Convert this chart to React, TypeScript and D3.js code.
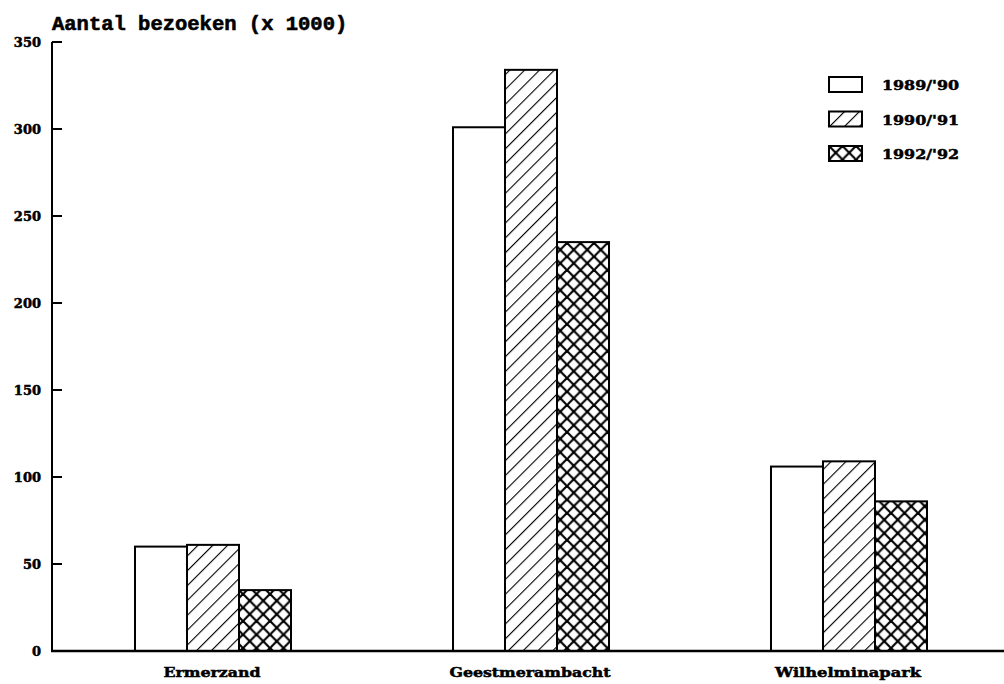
import React from 'react'
import * as d3 from 'd3'

const categories = ['Ermerzand', 'Geestmerambacht', 'Wilhelminapark']
const seasons = ["1989/'90", "1990/'91", "1992/'92"]
const values1989 = [60, 301, 106]
const values1990 = [61, 334, 109]
const values1992 = [35, 235, 86]
const yTicks = [0, 50, 100, 150, 200, 250, 300, 350]

const seriesValues = [values1989, values1990, values1992]
const fills = ['#fff', 'url(#hatch)', 'url(#cross)']

export default function App() {
  const width = 1004
  const height = 684
  const axisX = 52

  const y = d3.scaleLinear().domain([0, 350]).range([651, 42])
  const x = d3.scalePoint<string>().domain(categories).range([213, 849])
  const inner = d3.scaleBand<string>().domain(seasons).range([-78, 78])

  // old printed font: heavy, wide serif
  const heavy = {
    fontFamily: '"DejaVu Serif", "Liberation Serif", serif',
    fontWeight: 700,
    stroke: '#000',
    strokeWidth: 0.5,
    fill: '#000',
  }
  // label widths as printed, so they stretch like the original
  const labelWidth: Record<string, number> = { Ermerzand: 97, Geestmerambacht: 161, Wilhelminapark: 146 }

  return (
    <svg width={width} height={height} style={{ position: 'absolute', left: 0, top: 0 }}>
      <defs>
        <pattern id="hatch" width={10.5} height={10.5} patternUnits="userSpaceOnUse" patternTransform="rotate(45)">
          <rect width={10.5} height={10.5} fill="#fff" />
          <line x1={0} y1={0} x2={0} y2={10.5} stroke="#000" strokeWidth={2.2} />
        </pattern>
        <pattern id="cross" width={13.5} height={13.5} patternUnits="userSpaceOnUse">
          <rect width={13.5} height={13.5} fill="#fff" />
          <line x1={0} y1={0} x2={13.5} y2={13.5} stroke="#000" strokeWidth={2.2} />
          <line x1={13.5} y1={0} x2={0} y2={13.5} stroke="#000" strokeWidth={2.2} />
        </pattern>
      </defs>

      {/* title */}
      <text x={52} y={30} fontFamily='"Liberation Mono", "DejaVu Sans Mono", monospace' fontWeight={700}
        fontSize={20.5} fill="#000" stroke="#000" strokeWidth={0.6}>
        Aantal bezoeken (x 1000)
      </text>

      {/* y axis */}
      <line x1={axisX} x2={axisX} y1={y(350)} y2={y(0)} stroke="#000" strokeWidth={2} />
      {yTicks.map(t => (
        <g key={t}>
          <line x1={axisX} x2={axisX + 10} y1={y(t)} y2={y(t)} stroke="#000" strokeWidth={2} />
          <text x={41} y={y(t) + 5} textAnchor="end" fontSize={13} {...heavy}>
            {t}
          </text>
        </g>
      ))}

      {/* bars */}
      {categories.map((c, ci) => (
        <g key={c}>
          {seasons.map((s, si) => {
            const v = seriesValues[si][ci]
            const x0 = (x(c) ?? 0) + (inner(s) ?? 0)
            return (
              <rect
                key={s}
                x={x0}
                y={y(v)}
                width={inner.bandwidth()}
                height={y(0) - y(v)}
                fill={fills[si]}
                stroke="#000"
                strokeWidth={2}
              />
            )
          })}
          <text x={(x(c) ?? 0) - 1} y={677} textAnchor="middle" fontSize={13} {...heavy}
            textLength={labelWidth[c]} lengthAdjust="spacingAndGlyphs">
            {c}
          </text>
        </g>
      ))}

      {/* baseline */}
      <line x1={axisX - 1} x2={1004} y1={y(0)} y2={y(0)} stroke="#000" strokeWidth={2.5} />

      {/* legend */}
      {seasons.map((s, si) => (
        <g key={s} transform={`translate(829,${77 + si * 34.5})`}>
          <rect x={0} y={0} width={33} height={15} fill={fills[si]} stroke="#000" strokeWidth={2} />
          <text x={53} y={13} fontSize={13} {...heavy} textLength={77} lengthAdjust="spacingAndGlyphs">
            {s}
          </text>
        </g>
      ))}
    </svg>
  )
}
